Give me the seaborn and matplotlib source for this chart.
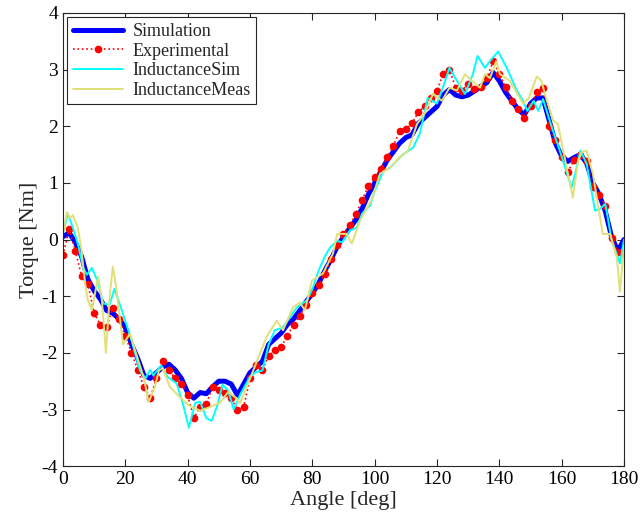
import numpy as np
import pandas as pd
import seaborn as sns
import matplotlib
matplotlib.use("Agg")
import matplotlib.pyplot as plt

# --- data ---
angle = np.arange(0, 181, 2)

simulation = [0.05, 0.12, -0.05, -0.3, -0.7, -0.9, -1.05, -1.25, -1.3, -1.4,
              -1.55, -1.85, -2.1, -2.4, -2.45, -2.35, -2.25, -2.2, -2.3, -2.45,
              -2.7, -2.8, -2.7, -2.72, -2.6, -2.5, -2.5, -2.55, -2.75, -2.55,
              -2.35, -2.25, -2.15, -1.85, -1.75, -1.65, -1.5, -1.4, -1.25, -1.1,
              -0.95, -0.78, -0.55, -0.35, -0.12, 0.05, 0.2, 0.35, 0.55, 0.8,
              1.0, 1.2, 1.4, 1.55, 1.7, 1.8, 1.85, 2.05, 2.15, 2.25,
              2.35, 2.55, 2.65, 2.55, 2.52, 2.55, 2.62, 2.7, 2.77, 2.95,
              2.8, 2.6, 2.45, 2.3, 2.2, 2.4, 2.5, 2.5, 2.1, 1.7,
              1.47, 1.38, 1.45, 1.5, 1.35, 1.0, 0.8, 0.5, 0.05, -0.2,
              0.0]

experimental = [-0.28, 0.18, -0.2, -0.65, -0.78, -1.3, -1.5, -1.55, -1.2, -1.4,
                -1.7, -2.0, -2.3, -2.6, -2.8, -2.45, -2.15, -2.3, -2.45, -2.55,
                -2.75, -3.15, -2.95, -2.9, -2.6, -2.65, -2.7, -2.8, -3.0, -2.95,
                -2.45, -2.22, -2.3, -2.05, -1.95, -1.9, -1.7, -1.5, -1.35, -1.15,
                -0.95, -0.8, -0.6, -0.35, -0.1, 0.1, 0.25, 0.45, 0.7, 0.95,
                1.1, 1.25, 1.45, 1.65, 1.92, 1.95, 2.05, 2.25, 2.35, 2.5,
                2.63, 2.92, 3.0, 2.68, 2.63, 2.75, 2.65, 2.7, 2.85, 3.15,
                2.92, 2.7, 2.45, 2.3, 2.15, 2.35, 2.6, 2.68, 2.0, 1.75,
                1.45, 1.2, 1.4, 1.5, 1.39, 0.92, 0.78, 0.6, 0.02, -0.22,
                -0.25]

ind_sim_angle = [0, 1.6, 3.2, 5, 6.5, 7.7, 9.3, 11, 13, 15, 16.5, 18, 19.5, 22,
                 24.7, 26.5, 28, 29, 31.5, 33.5, 36.5, 38.5, 40.4, 42.5, 44, 46,
                 47.7, 49.6, 51.2, 53, 54.8, 57, 60, 62, 64, 66, 68, 70.6, 72.5,
                 75, 78.3, 80.2, 82, 84, 85.7, 88, 89.5, 92, 94.3, 96, 98.5, 100,
                 102.7, 105, 109, 112.3, 114.5, 117, 120, 122, 124, 126.4, 129,
                 131.5, 133, 135.4, 137, 139.6, 142.4, 145.6, 147.6, 149, 151,
                 152.5, 154, 156.9, 159.4, 161.5, 163.2, 164.5, 166, 168, 170.7,
                 172.5, 174, 176, 178.7, 180]
ind_sim = [0.1, 0.46, 0.21, -0.12, -0.5, -0.62, -0.5, -0.72, -1.13, -1.15, -0.87,
           -1.1, -1.35, -1.78, -2.31, -2.45, -2.3, -2.4, -2.22, -2.42, -2.54, -2.9,
           -3.32, -2.88, -2.86, -3.15, -3.2, -2.92, -2.56, -2.66, -3.0, -2.72,
           -2.42, -2.34, -2.31, -1.85, -1.6, -1.55, -1.4, -1.2, -1.07, -0.85,
           -0.55, -0.3, -0.14, -0.02, -0.05, 0.16, 0.21, 0.46, 0.6, 0.85,
           1.2, 1.27, 1.5, 1.62, 1.87, 2.5, 2.4, 2.7, 3.03, 2.8, 2.57,
           2.92, 3.24, 3.03, 3.15, 3.32, 3.03, 2.63, 2.45, 2.27, 2.45,
           2.27, 2.48, 1.97, 1.57, 1.2, 0.92, 1.2, 1.57, 1.34, 0.51,
           0.55, 0.63, 0.0, -0.42, 0.0]

ind_meas_angle = [0, 1.3, 2.3, 3.2, 4.8, 6, 7, 8, 9.3, 10.3, 11.3, 12.5, 13.8, 15,
                  16, 17, 18.3, 19.3, 21.5, 24, 26, 27.5, 29.5, 30.8, 32, 34.3,
                  37.5, 40.5, 44, 47, 50.4, 53, 55.7, 56.8, 59, 62.2, 65.5, 68.6,
                  70.6, 73.8, 76, 77.6, 79.9, 83.4, 86.6, 88, 91, 92.7, 95.3, 97,
                  99, 101.7, 105, 108, 110.7, 113.6, 116, 118.7, 121.6, 124, 126.4,
                  129, 131.2, 133.8, 135.4, 137, 139, 140.2, 143.4, 145.5, 147.6,
                  149.5, 152, 153.5, 154.6, 157.3, 158.8, 161.6, 163.6, 165.3,
                  166.5, 168, 170, 173.2, 175.5, 177.7, 178.7, 180]
ind_meas = [0.1, 0.48, 0.38, 0.43, 0.21, -0.2, -0.72, -1.07, -1.25, -0.95, -0.65,
            -1.07, -2.0, -1.0, -0.48, -0.8, -1.4, -1.85, -1.66, -2.1, -2.45, -2.87,
            -2.6, -2.31, -2.27, -2.6, -2.78, -2.93, -3.02, -2.96, -2.88, -2.69,
            -2.8, -2.89, -2.6, -2.15, -1.7, -1.43, -1.6, -1.2, -1.11, -1.25,
            -0.72, -0.6, -0.25, 0.1, 0.1, -0.07, 0.33, 0.5, 0.7, 1.16, 1.27,
            1.45, 1.57, 2.04, 2.22, 2.57, 2.45, 2.68, 2.63, 2.92, 2.8, 2.68,
            2.92, 2.85, 3.15, 2.92, 2.8, 2.6, 2.4, 2.5, 2.88, 2.8, 2.57, 2.1,
            2.04, 1.27, 0.74, 1.39, 1.55, 1.57, 1.16, 0.1, 0.1, -0.32, -0.92,
            -0.1]

# --- style ---
sns.set_style("ticks", rc={'axes.edgecolor': '#262626',
                           'xtick.direction': 'in', 'ytick.direction': 'in',
                           'xtick.top': True, 'ytick.right': True,
                           'axes.spines.top': True, 'axes.spines.right': True})
plt.rcParams['font.family'] = ['Liberation Serif', 'DejaVu Serif']
plt.rcParams['axes.unicode_minus'] = False

fig = plt.figure(figsize=(6.42, 5.18), dpi=100)
ax = fig.add_axes([0.098, 0.100, 0.874, 0.875])

sns.lineplot(x=angle, y=simulation, ax=ax, color='#0000ff', linewidth=3.6,
             label='Simulation')
sns.lineplot(x=angle, y=experimental, ax=ax, color='#ff0000', linewidth=1.2,
             linestyle=':', marker='o', markersize=5.5, markeredgewidth=0,
             label='Experimental')
sns.lineplot(x=ind_sim_angle, y=ind_sim, ax=ax, color='#00ffff', linewidth=1.4,
             label='InductanceSim')
sns.lineplot(x=ind_meas_angle, y=ind_meas, ax=ax, color='#e0e078',
             linewidth=1.4, label='InductanceMeas')

ax.set_xlim(0, 180)
ax.set_ylim(-4, 4)
ax.set_xticks(np.arange(0, 181, 20))
ax.set_yticks(np.arange(-4, 5, 1))
ax.tick_params(labelsize=14, length=5, width=0.8, colors='#262626',
               labelcolor='black')
ax.set_xlabel('Angle [deg]', fontsize=16, labelpad=2)
ax.set_ylabel('Torque [Nm]', fontsize=16, labelpad=2)

leg = ax.legend(loc='upper left', fontsize=13, handlelength=2.8,
                borderaxespad=0.25, borderpad=0.3, labelspacing=0.15,
                handletextpad=0.5, fancybox=False, framealpha=1)
leg.get_frame().set_edgecolor('#262626')
leg.get_frame().set_linewidth(0.8)

fig.savefig('out.png', dpi=100)
